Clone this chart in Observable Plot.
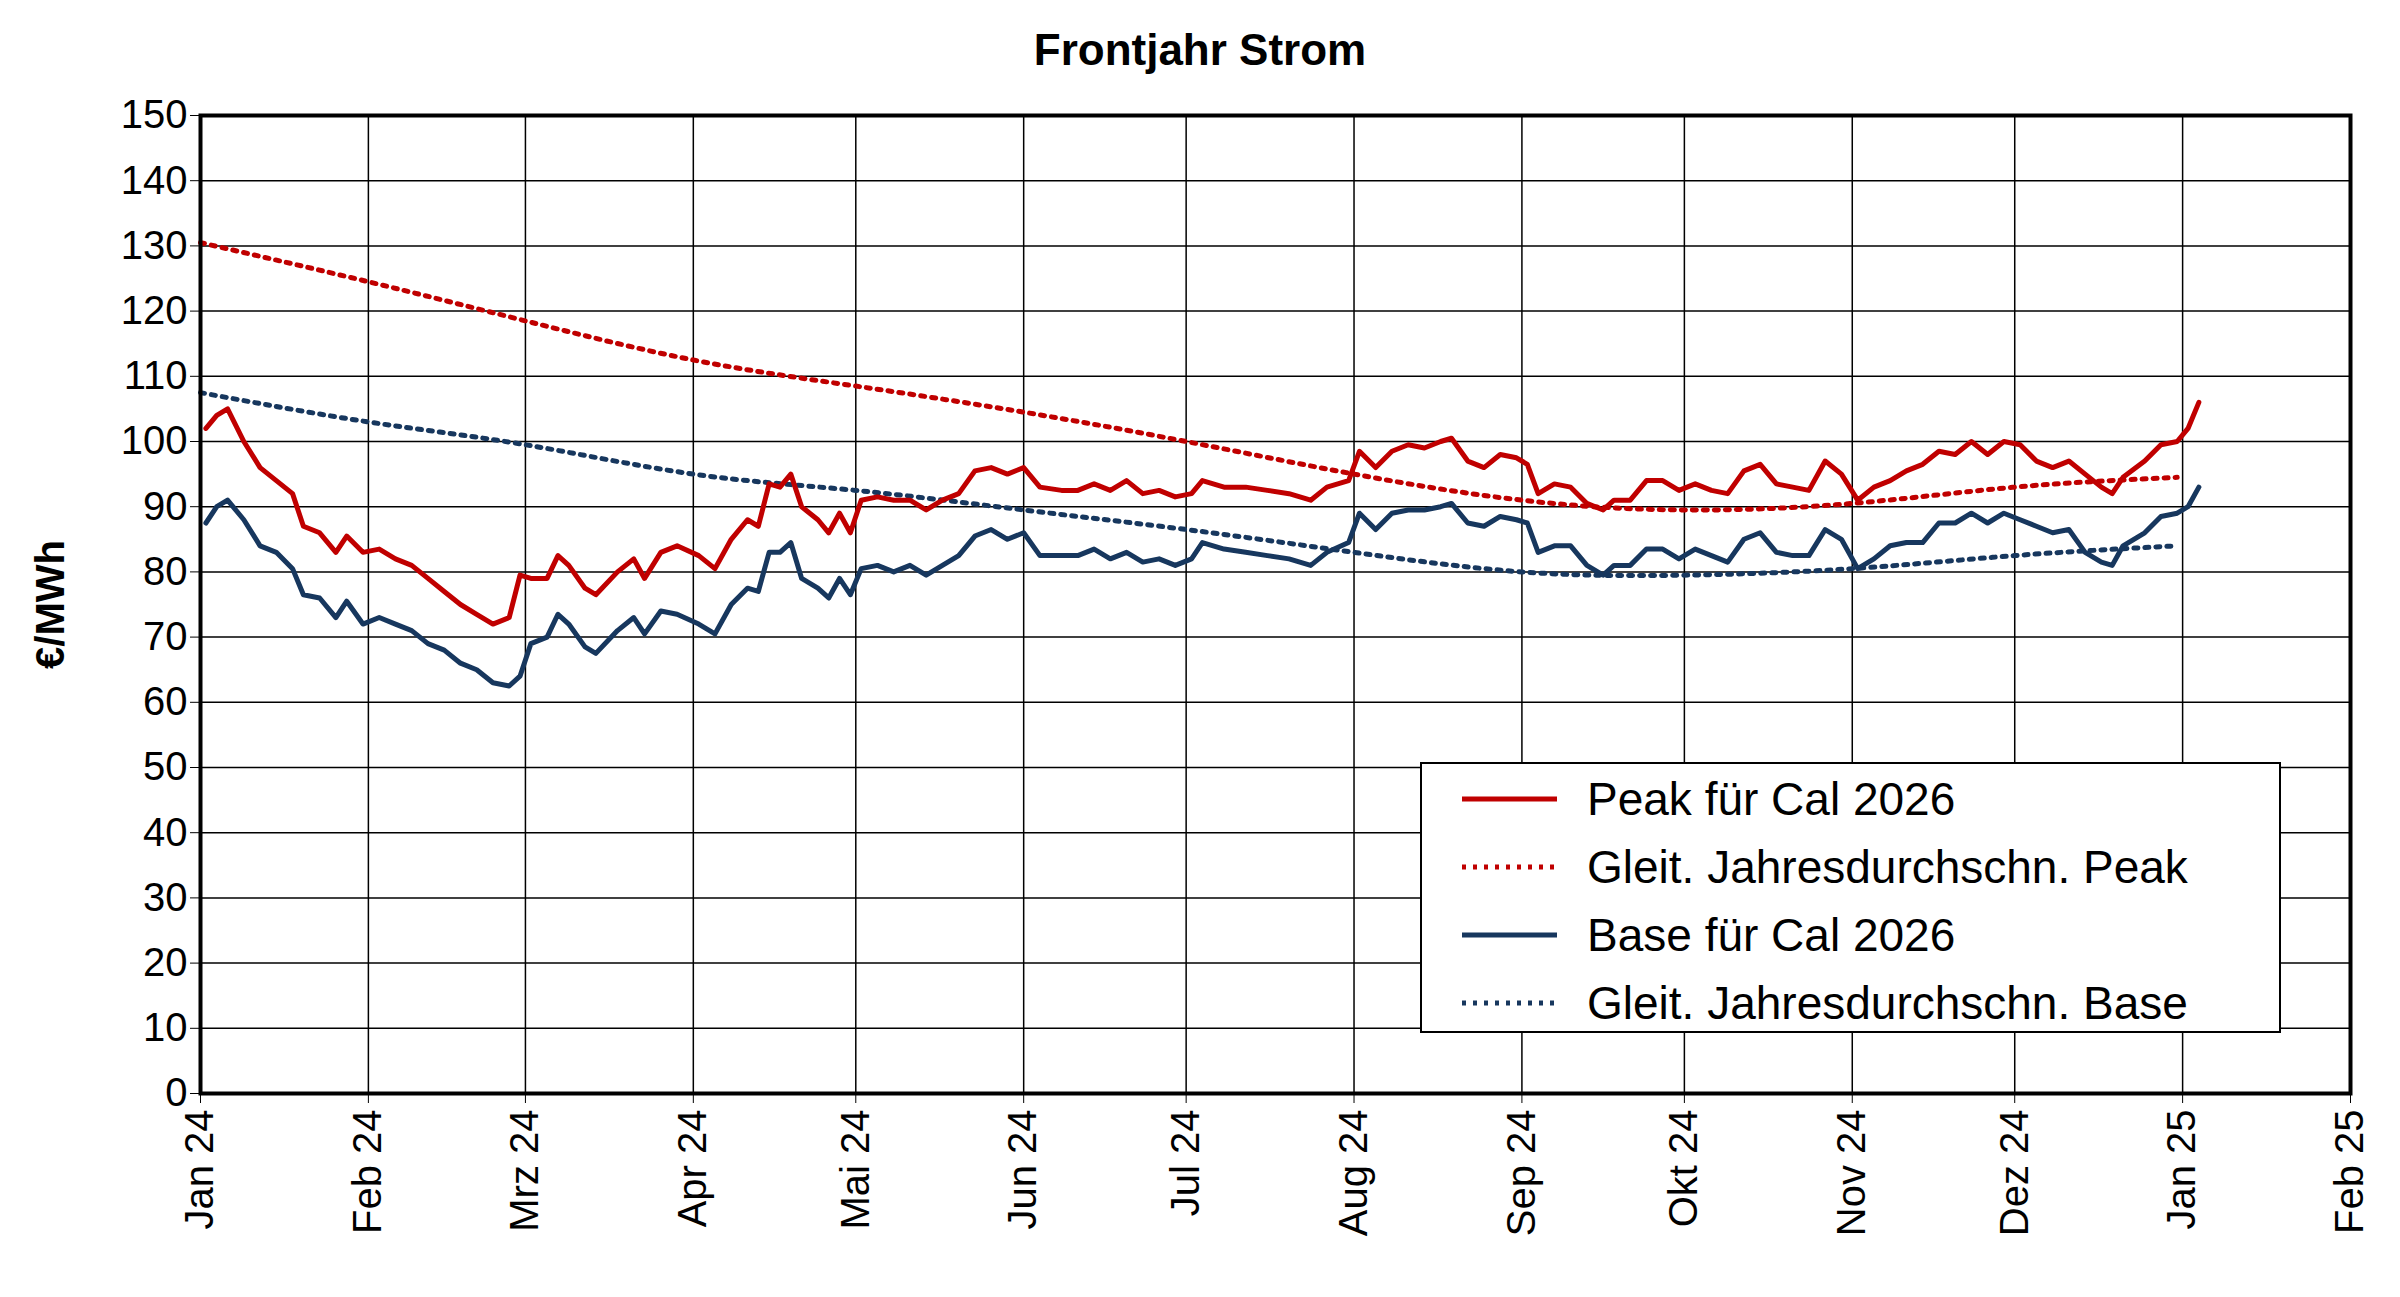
<!DOCTYPE html>
<html><head><meta charset="utf-8">
<script src="https://cdn.jsdelivr.net/npm/d3@7"></script>
<script src="https://cdn.jsdelivr.net/npm/@observablehq/plot@0.6"></script>
<style>
body{margin:0;background:#fff;font-family:"Liberation Sans",Arial,sans-serif;}
#wrap{position:relative;width:2400px;height:1297px;}
#title{height:80px;line-height:100px;text-align:center;font-weight:bold;font-size:44px;}
#legend{position:absolute;left:1420px;top:762px;width:861px;height:271px;border:2px solid #000;background:#fff;box-sizing:border-box;font-size:46px;}
.row{position:absolute;left:40px;height:60px;display:flex;align-items:center;}
.row svg{margin-right:30px;}
</style></head><body>
<div id="wrap"><div id="title">Frontjahr Strom</div><div id="chart"></div>
<div id="legend"></div></div>
<script>
const dates = ["2024-01-02","2024-01-04","2024-01-06","2024-01-09","2024-01-12","2024-01-15","2024-01-18","2024-01-20","2024-01-23","2024-01-26","2024-01-28","2024-01-31","2024-02-03","2024-02-06","2024-02-09","2024-02-12","2024-02-15","2024-02-18","2024-02-21","2024-02-24","2024-02-27","2024-02-29","2024-03-02","2024-03-05","2024-03-07","2024-03-09","2024-03-12","2024-03-14","2024-03-18","2024-03-21","2024-03-23","2024-03-26","2024-03-29","2024-04-02","2024-04-05","2024-04-08","2024-04-11","2024-04-13","2024-04-15","2024-04-17","2024-04-19","2024-04-21","2024-04-24","2024-04-26","2024-04-28","2024-04-30","2024-05-02","2024-05-05","2024-05-08","2024-05-11","2024-05-14","2024-05-17","2024-05-20","2024-05-23","2024-05-26","2024-05-29","2024-06-01","2024-06-04","2024-06-08","2024-06-11","2024-06-14","2024-06-17","2024-06-20","2024-06-23","2024-06-26","2024-06-29","2024-07-02","2024-07-04","2024-07-08","2024-07-12","2024-07-16","2024-07-20","2024-07-24","2024-07-27","2024-07-31","2024-08-02","2024-08-05","2024-08-08","2024-08-11","2024-08-14","2024-08-17","2024-08-19","2024-08-22","2024-08-25","2024-08-28","2024-08-31","2024-09-02","2024-09-04","2024-09-07","2024-09-10","2024-09-13","2024-09-16","2024-09-18","2024-09-21","2024-09-24","2024-09-27","2024-09-30","2024-10-03","2024-10-06","2024-10-09","2024-10-12","2024-10-15","2024-10-18","2024-10-21","2024-10-24","2024-10-27","2024-10-30","2024-11-02","2024-11-05","2024-11-08","2024-11-11","2024-11-14","2024-11-17","2024-11-20","2024-11-23","2024-11-26","2024-11-29","2024-12-02","2024-12-05","2024-12-08","2024-12-11","2024-12-14","2024-12-17","2024-12-19","2024-12-21","2024-12-25","2024-12-28","2024-12-31","2025-01-02","2025-01-04"];
const peak = [102,104,105,100,96,94,92,87,86,83,85.5,83,83.5,82,81,79,77,75,73.5,72,73,79.5,79,79,82.5,81,77.5,76.5,80,82,79,83,84,82.5,80.5,85,88,87,93.5,93,95,90,88,86,89,86,91,91.5,91,91,89.5,91,92,95.5,96,95,96,93,92.5,92.5,93.5,92.5,94,92,92.5,91.5,92,94,93,93,92.5,92,91,93,94,98.5,96,98.5,99.5,99,100,100.5,97,96,98,97.5,96.5,92,93.5,93,90.5,89.5,91,91,94,94,92.5,93.5,92.5,92,95.5,96.5,93.5,93,92.5,97,95,91,93,94,95.5,96.5,98.5,98,100,98,100,99.5,97,96,97,95,93,92,94.5,97,99.5,100,102,106];
const base = [87.5,90,91,88,84,83,80.5,76.5,76,73,75.5,72,73,72,71,69,68,66,65,63,62.5,64,69,70,73.5,72,68.5,67.5,71,73,70.5,74,73.5,72,70.5,75,77.5,77,83,83,84.5,79,77.5,76,79,76.5,80.5,81,80,81,79.5,81,82.5,85.5,86.5,85,86,82.5,82.5,82.5,83.5,82,83,81.5,82,81,82,84.5,83.5,83,82.5,82,81,83,84.5,89,86.5,89,89.5,89.5,90,90.5,87.5,87,88.5,88,87.5,83,84,84,81,79.5,81,81,83.5,83.5,82,83.5,82.5,81.5,85,86,83,82.5,82.5,86.5,85,80.5,82,84,84.5,84.5,87.5,87.5,89,87.5,89,88,87,86,86.5,83,81.5,81,84,86,88.5,89,90,93];
const avgDates = ["2024-01-01","2024-02-01","2024-03-01","2024-04-01","2024-05-01","2024-06-01","2024-07-01","2024-08-01","2024-09-01","2024-10-01","2024-11-01","2024-12-01","2024-12-31"];
const peakAvg = [130.5,124.5,118.5,112.5,108.5,104.5,100,95,91,89.5,90.5,93,94.5];
const baseAvg = [107.5,103,99.5,95,92.5,89.5,86.5,83,80,79.5,80.5,82.5,84];
const monthLabels = ["Jan 24","Feb 24","Mrz 24","Apr 24","Mai 24","Jun 24","Jul 24","Aug 24","Sep 24","Okt 24","Nov 24","Dez 24","Jan 25","Feb 25"];
const RED="#c00000", BLUE="#17375e";
const p = dates.map((d,i)=>({d:new Date(d),v:peak[i]}));
const b = dates.map((d,i)=>({d:new Date(d),v:base[i]}));
const pa = avgDates.map((d,i)=>({d:new Date(d),v:peakAvg[i]}));
const ba = avgDates.map((d,i)=>({d:new Date(d),v:baseAvg[i]}));
const ticks = monthLabels.map((_,i)=>new Date(Date.UTC(2024,i,1)));
const chart = Plot.plot({
  width:2400,height:1217,marginLeft:200,marginRight:50,marginTop:35,marginBottom:204,
  style:{fontFamily:"Liberation Sans, Arial, sans-serif",fontSize:"40px",color:"#000"},
  x:{type:"utc",domain:[ticks[0],ticks[13]],ticks:ticks,tickFormat:(d,i)=>monthLabels[i],tickRotate:-90,tickSize:10,tickPadding:6,label:null},
  y:{domain:[0,150],ticks:d3.range(0,151,10),tickSize:10,label:"€/MWh",labelAnchor:"center",labelArrow:"none",labelOffset:165},
  marks:[
    Plot.gridX(ticks,{stroke:"#000",strokeOpacity:1,strokeWidth:1.5}),
    Plot.gridY(d3.range(0,151,10),{stroke:"#000",strokeOpacity:1,strokeWidth:1.5}),
    Plot.line(pa,{x:"d",y:"v",stroke:RED,strokeWidth:5,strokeDasharray:"4,7",curve:"natural"}),
    Plot.line(ba,{x:"d",y:"v",stroke:BLUE,strokeWidth:5,strokeDasharray:"4,7",curve:"natural"}),
    Plot.line(p,{x:"d",y:"v",stroke:RED,strokeWidth:5}),
    Plot.line(b,{x:"d",y:"v",stroke:BLUE,strokeWidth:5}),
    Plot.frame({stroke:"#000",strokeWidth:4})
  ]
});
chart.querySelectorAll("[aria-label='y-axis label'] text").forEach(t=>{t.style.fontWeight="bold";t.style.fontSize="40px";});
document.getElementById("chart").appendChild(chart);
const items=[["Peak für Cal 2026",RED,null],["Gleit. Jahresdurchschn. Peak",RED,"4,7"],["Base für Cal 2026",BLUE,null],["Gleit. Jahresdurchschn. Base",BLUE,"4,7"]];
const lg=document.getElementById("legend");
items.forEach((it,i)=>{
  const r=document.createElement("div");r.className="row";r.style.top=(5+i*68)+"px";
  r.innerHTML=`<svg width="95" height="10"><line x1="0" x2="95" y1="5" y2="5" stroke="${it[1]}" stroke-width="5" ${it[2]?`stroke-dasharray="${it[2]}"`:""}/></svg><span>${it[0]}</span>`;
  lg.appendChild(r);
});
</script></body></html>
